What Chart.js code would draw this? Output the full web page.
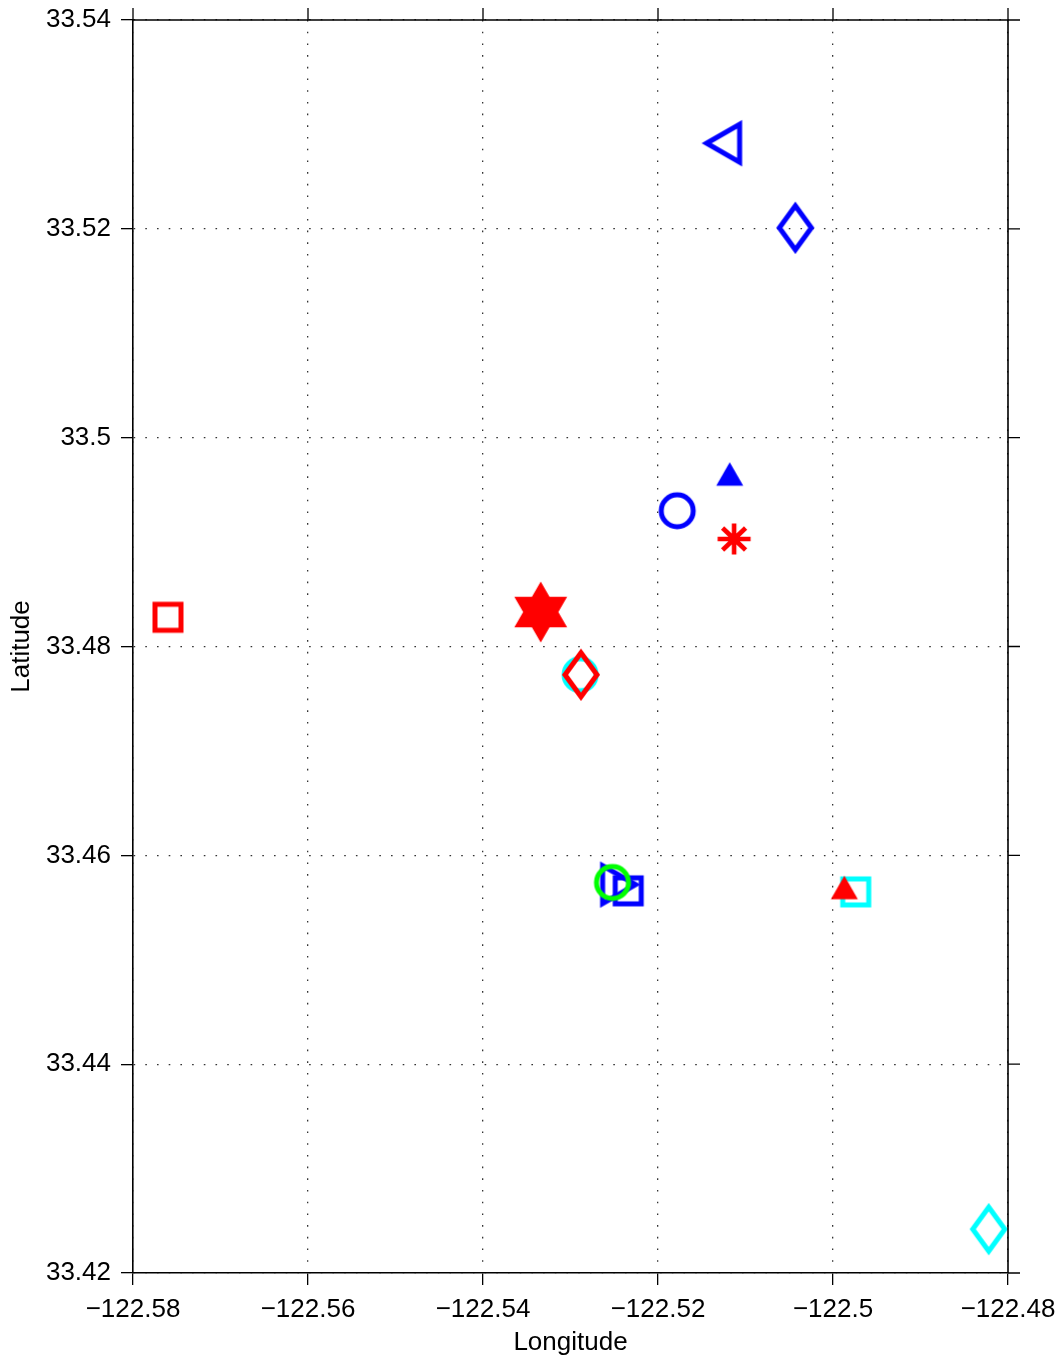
<!DOCTYPE html>
<html>
<head>
<meta charset="utf-8">
<script src="https://cdn.jsdelivr.net/npm/chart.js@4/dist/chart.umd.min.js"></script>
<style>
  html, body { margin: 0; padding: 0; background: #fff; }
  canvas { display: block; }
</style>
</head>
<body>
<canvas id="c" width="1055" height="1358"></canvas>
<script>
// ---- data ----
const lon = [-122.5760, -122.5334, -122.5289, -122.5288, -122.5178, -122.5118, -122.5113,
             -122.5125, -122.5043, -122.5245, -122.5234, -122.5252, -122.4974, -122.4987, -122.4822];
const lat = [33.4828, 33.4833, 33.4773, 33.4773, 33.4930, 33.4965, 33.4903,
             33.5282, 33.5201, 33.4572, 33.4566, 33.4574, 33.4565, 33.4569, 33.4242];
const xTickValues = [-122.58, -122.56, -122.54, -122.52, -122.50, -122.48];
const xTickLabels = ['\u2212122.58', '\u2212122.56', '\u2212122.54', '\u2212122.52', '\u2212122.5', '\u2212122.48'];
const yTickValues = [33.42, 33.44, 33.46, 33.48, 33.50, 33.52, 33.54];
const yTickLabels = ['33.42', '33.44', '33.46', '33.48', '33.5', '33.52', '33.54'];
const xTitle = 'Longitude';
const yTitle = 'Latitude';

// ---- marker styles (shape, colour) ----
const markerShapes = ['square', 'hexagram', 'circle', 'diamond', 'circle', 'triUpFilled', 'asterisk',
                      'triLeft', 'diamond', 'triRight', 'square', 'circle', 'square', 'triUpFilled', 'diamond'];
const markerColors = ['#ff0000', '#ff0000', '#00ffff', '#ff0000', '#0000ff', '#0000ff', '#ff0000',
                      '#0000ff', '#0000ff', '#0000ff', '#0000ff', '#00ff00', '#00ffff', '#ff0000', '#00ffff'];

function makeMarker(shape, color) {
  const c = document.createElement('canvas');
  const S = 70;
  c.width = S; c.height = S;
  const g = c.getContext('2d');
  g.translate(S / 2, S / 2);
  g.strokeStyle = color; g.fillStyle = color;
  g.lineWidth = 5; g.lineJoin = 'miter'; g.miterLimit = 10;
  g.beginPath();
  switch (shape) {
    case 'square':
      g.lineWidth = 5;
      g.rect(-13, -13, 26, 26);
      g.stroke();
      break;
    case 'circle':
      g.arc(0, 0, 16, 0, Math.PI * 2);
      g.stroke();
      break;
    case 'diamond':
      g.moveTo(0, -22); g.lineTo(16, 0); g.lineTo(0, 22); g.lineTo(-16, 0); g.closePath();
      g.stroke();
      break;
    case 'triLeft':
      g.moveTo(-17, 0); g.lineTo(16, -19); g.lineTo(16, 19); g.closePath();
      g.stroke();
      break;
    case 'triRight':
      g.moveTo(17, 0); g.lineTo(-16, -19); g.lineTo(-16, 19); g.closePath();
      g.stroke();
      break;
    case 'triUpFilled':
      g.moveTo(0, -12); g.lineTo(13.5, 11.5); g.lineTo(-13.5, 11.5); g.closePath();
      g.fill();
      break;
    case 'asterisk':
      g.lineCap = 'butt';
      g.lineWidth = 4.6;
      g.moveTo(0, -15.5); g.lineTo(0, 15.5);
      g.moveTo(-16.5, 0); g.lineTo(16.5, 0);
      g.moveTo(-11.5, -11); g.lineTo(11.5, 11);
      g.moveTo(-11.5, 11); g.lineTo(11.5, -11);
      g.stroke();
      break;
    case 'hexagram': {
      const R = 30.5;
      for (let t = 0; t < 2; t++) {
        const off = t === 0 ? -Math.PI / 2 : Math.PI / 2;
        g.moveTo(R * Math.cos(off), R * Math.sin(off));
        for (let k = 1; k < 3; k++) {
          const a = off + k * 2 * Math.PI / 3;
          g.lineTo(R * Math.cos(a), R * Math.sin(a));
        }
        g.closePath();
      }
      g.fill('nonzero');
      break;
    }
  }
  return c;
}

const N = lon.length;
const datasets = lon.map((x, i) => ({
  data: [{ x: x, y: lat[i] }],
  pointStyle: makeMarker(markerShapes[i], markerColors[i]),
  pointRadius: 18,
  pointHoverRadius: 18,
  order: N - i,
  showLine: false
}));

const FONT = "'Liberation Sans', Arial, Helvetica, sans-serif";

const framePlugin = {
  id: 'frame',
  afterDraw(chart) {
    const { ctx, chartArea: a, scales } = chart;
    ctx.save();
    ctx.strokeStyle = '#000';
    ctx.lineWidth = 1.6;
    ctx.beginPath();
    ctx.moveTo(a.left, a.top); ctx.lineTo(a.right, a.top); ctx.lineTo(a.right, a.bottom);
    ctx.stroke();
    ctx.lineWidth = 1.3;
    ctx.beginPath();
    xTickValues.forEach(v => {
      const px = scales.x.getPixelForValue(v);
      ctx.moveTo(px, a.top); ctx.lineTo(px, a.top - 12);
    });
    yTickValues.forEach(v => {
      const py = scales.y.getPixelForValue(v);
      ctx.moveTo(a.right, py); ctx.lineTo(a.right + 12, py);
    });
    ctx.stroke();
    ctx.restore();
  }
};

new Chart(document.getElementById('c'), {
  type: 'scatter',
  data: { datasets },
  options: {
    responsive: false,
    devicePixelRatio: 1,
    animation: false,
    layout: { padding: { top: 20, right: 47, left: 0, bottom: 0 } },
    plugins: { legend: { display: false }, tooltip: { enabled: false } },
    scales: {
      x: {
        type: 'linear',
        min: -122.58, max: -122.48,
        afterBuildTicks: s => { s.ticks = xTickValues.map(v => ({ value: v })); },
        afterFit: s => { s.height = 85; s.paddingLeft = 0; s.paddingRight = 0; s.paddingTop = 0; s.paddingBottom = 0; },
        ticks: {
          callback: (v, i) => xTickLabels[i],
          color: '#000', font: { family: FONT, size: 26 }, padding: 9,
          maxRotation: 0, autoSkip: false
        },
        grid: { color: '#333', lineWidth: 1.3, tickLength: 12, tickColor: '#000', tickWidth: 1.3 },
        border: { display: true, color: '#000', width: 1.6, dash: [1.6, 10.1] },
        title: { display: true, text: xTitle, color: '#000', font: { family: FONT, size: 26 }, padding: { top: 0, bottom: 0 } }
      },
      y: {
        type: 'linear',
        min: 33.42, max: 33.54,
        afterBuildTicks: s => { s.ticks = yTickValues.map(v => ({ value: v })); },
        afterFit: s => { s.width = 133; s.paddingLeft = 0; s.paddingRight = 0; s.paddingTop = 0; s.paddingBottom = 0; },
        ticks: {
          callback: (v, i) => yTickLabels[i],
          color: '#000', font: { family: FONT, size: 26 }, padding: 10, autoSkip: false
        },
        grid: { color: '#333', lineWidth: 1.3, tickLength: 12, tickColor: '#000', tickWidth: 1.3 },
        border: { display: true, color: '#000', width: 1.6, dash: [1.6, 10.1] },
        title: { display: true, text: yTitle, color: '#000', font: { family: FONT, size: 26 }, padding: { top: 6, bottom: 0 } }
      }
    }
  },
  plugins: [framePlugin]
});
</script>
</body>
</html>
